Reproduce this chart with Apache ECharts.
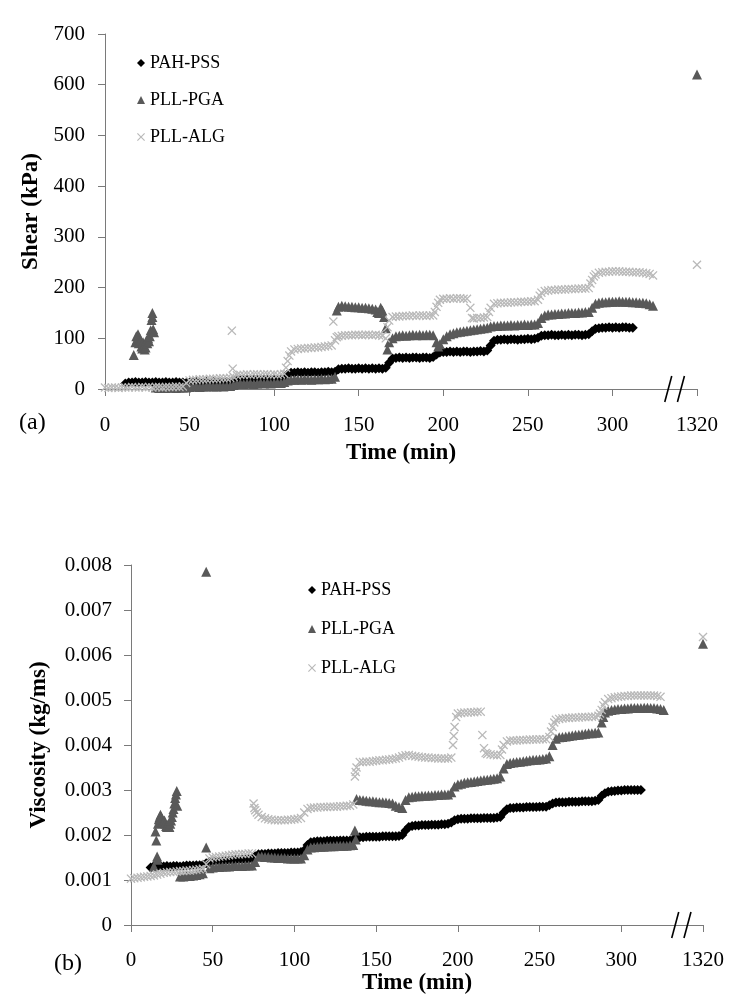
<!DOCTYPE html>
<html>
<head>
<meta charset="utf-8">
<script src="https://cdn.jsdelivr.net/npm/echarts@6/dist/echarts.min.js"></script>
<style>
html,body{margin:0;padding:0;background:#fff;}
#chart{width:750px;height:1008px;}
</style>
</head>
<body>
<div id="chart"></div>
<script>
// ---------- Data (time in min, shear in kPa, viscosity in kg/ms) ----------
const seriesNames = ['PAH-PSS', 'PLL-PGA', 'PLL-ALG'];
const xTicks = [0, 50, 100, 150, 200, 250, 300, 1320];
const lastTime = 1320;

const shearPAHPSS = [[12,11],[14,13],[16,13],[18,14],[20,13],[22,13],[24,14],[26,13],[28,13],[30,14],[32,13],[34,13],[36,14],[38,13],[40,13],[42,14],[44,13],[46,13],
[48,12],[50,13],[52,13],[54,14],[56,13],[58,13],[60,14],[62,13],[64,14],[66,13],[68,14],[70,13],[72,14],[74,14],
[76,17],[78,19],[80,19],[82,20],[84,19],[86,19],[88,20],[90,19],[92,20],[94,19],[96,20],[98,19],[100,20],[102,19],[104,20],[106,21],
[108,29],[110,32],[112,32],[114,33],[116,32],[118,33],[120,32],[122,33],[124,33],[126,32],[128,33],[130,33],[132,34],[134,33],[136,34],
[138,39],[140,40],[142,40],[144,41],[146,40],[148,40],[150,41],[152,40],[154,41],[156,40],[158,41],[160,40],[162,41],[164,40],[166,42],
[168,52],[170,60],[172,61],[174,62],[176,61],[178,62],[180,61],[182,62],[184,62],[186,61],[188,62],[190,62],[192,61],[194,63],
[196,68],[198,72],[200,73],[202,73],[204,74],[206,73],[208,74],[210,73],[212,74],[214,74],[216,73],[218,74],[220,74],[222,75],[224,74],[226,76],
[228,86],[230,95],[232,97],[234,97],[236,98],[238,97],[240,98],[242,98],[244,97],[246,98],[248,98],[250,99],[252,98],[254,99],[256,101],
[258,105],[260,106],[262,106],[264,107],[266,106],[268,106],[270,107],[272,106],[274,107],[276,106],[278,107],[280,107],[282,106],[284,107],[286,108],
[288,114],[290,119],[292,120],[294,121],[296,121],[298,122],[300,121],[302,122],[304,121],[306,122],[308,122],[310,121],[312,121]];

const shearPLLPGA = [[17,67],[18,92],[18.5,104],[19,98],[19.5,108],[20,90],[20.5,100],[21,95],[21.5,84],[22,80],[22.5,92],[23,86],[23.5,78],[24,82],[24.5,96],[25,90],[25.5,100],[26,94],[26.5,104],[27,116],[27.5,136],[28,150],[28,142],[28.5,118],[29,112],
[30,3],[32,2],[34,3],[36,2],[38,3],[40,3],[42,2],[44,3],[46,3],[48,3],
[50,4],[52,5],[54,5],[56,4],[58,5],[60,5],[62,6],[64,5],[66,5],[68,6],[70,5],[72,6],[74,6],[76,8],
[78,10],[80,11],[82,10],[84,11],[86,11],[88,10],[90,11],[92,12],[94,11],[96,12],[98,11],[100,12],[102,12],[104,12],[106,14],
[108,17],[110,18],[112,18],[114,19],[116,18],[118,19],[120,19],[122,18],[124,19],[126,19],[128,20],[130,19],[132,20],[134,20],[136,24],
[137,155],[138,162],[140,164],[142,163],[144,162],[146,162],[148,161],[150,161],[152,160],[154,160],[156,159],[158,158],[160,157],[161,152],[162,150],[163,160],[164,155],[165,142],[166,120],[167,78],
[168,92],[170,100],[172,104],[174,105],[176,106],[178,105],[180,106],[182,107],[184,106],[186,107],[188,106],[190,107],[192,107],[194,106],[196,92],
[197,84],[198,88],[200,98],[202,104],[204,108],[206,110],[208,112],[210,113],[212,114],[214,115],[216,116],[218,117],[220,118],[222,119],[224,120],[226,121],
[228,123],[230,124],[232,124],[234,125],[236,125],[238,125],[240,126],[242,125],[244,126],[246,126],[248,127],[250,126],[252,127],[254,127],[256,130],
[258,140],[260,145],[262,147],[264,147],[266,148],[268,148],[270,149],[272,149],[274,150],[276,150],[278,150],[280,151],[282,151],[284,152],[286,152],
[288,160],[290,168],[292,170],[294,171],[296,171],[298,172],[300,172],[302,172],[304,173],[306,172],[308,172],[310,172],[312,171],[314,171],[316,170],[318,170],[320,169],[322,167],[324,164],
[1320,620]];

const shearPLLALG = [[0,3],[2,2],[4,3],[6,3],[8,2],[10,3],[12,3],[14,3],[16,4],[18,3],[20,3],[22,4],[24,3],[26,4],[28,3],[30,4],[32,4],[34,3],[36,4],[38,4],[40,4],[42,5],[44,4],[46,5],
[48,12],[50,17],[52,18],[54,18],[56,19],[58,19],[60,19],[62,20],[64,20],[66,20],[68,21],[70,21],[72,21],[74,22],[75,115],[75.5,40],
[76,24],[78,27],[80,28],[82,28],[84,29],[86,28],[88,29],[90,29],[92,28],[94,29],[96,29],[98,28],[100,29],[102,28],[104,29],[106,30],
[107,42],[108,55],[109,66],[110,74],[112,78],[114,79],[116,80],[118,80],[120,81],[122,81],[124,82],[126,82],[128,83],[130,84],[132,85],[134,86],[135,133],
[136,96],[137,102],[138,104],[140,105],[142,106],[144,106],[146,106],[148,107],[150,107],[152,106],[154,107],[156,107],[158,106],[160,107],[162,106],[164,105],[166,100],
[167,122],[168,135],[170,142],[172,143],[174,143],[176,144],[178,144],[180,144],[182,145],[184,144],[186,145],[188,145],[190,144],[192,145],[194,145],
[195,152],[196,162],[197,170],[198,176],[200,178],[202,178],[204,179],[206,178],[208,179],[210,179],[212,178],[214,178],[216,160],
[217,140],[218,139],[220,140],[222,140],[224,141],[226,142],[227,152],[228,160],
[230,168],[232,169],[234,170],[236,170],[238,170],[240,171],[242,171],[244,171],[246,172],[248,172],[250,172],[252,173],[254,173],[256,176],
[257,184],[258,190],[260,193],[262,194],[264,195],[266,195],[268,196],[270,196],[272,196],[274,197],[276,197],[278,197],[280,198],[282,198],[284,198],[286,199],
[287,208],[288,215],[289,222],[290,226],[292,229],[294,230],[296,231],[298,231],[300,232],[302,232],[304,232],[306,231],[308,231],[310,231],[312,230],[314,230],[316,230],[318,229],[320,228],[322,227],[324,224],
[1320,245]];

const viscPAHPSS = [[12,0.00128],[14,0.00131],[16,0.0013],[18,0.00131],[20,0.0013],[22,0.00131],[24,0.0013],[26,0.00131],[28,0.00131],[30,0.0013],[32,0.00131],[34,0.00132],[36,0.00132],[38,0.00132],[40,0.00133],[42,0.00133],[44,0.00134],[46,0.00137],
[48,0.0014],[50,0.00141],[52,0.00142],[54,0.00142],[56,0.00143],[58,0.00143],[60,0.00144],[62,0.00144],[64,0.00145],[66,0.00145],[68,0.00145],[70,0.00146],[72,0.00146],[74,0.00147],
[76,0.00153],[78,0.00157],[80,0.00158],[82,0.00158],[84,0.00159],[86,0.00159],[88,0.00159],[90,0.0016],[92,0.0016],[94,0.0016],[96,0.0016],[98,0.00161],[100,0.00161],[102,0.00161],[104,0.00162],[106,0.00166],
[108,0.00178],[110,0.00184],[112,0.00185],[114,0.00186],[116,0.00186],[118,0.00186],[120,0.00187],[122,0.00187],[124,0.00187],[126,0.00187],[128,0.00188],[130,0.00188],[132,0.00188],[134,0.00188],[136,0.0019],
[138,0.00194],[140,0.00195],[142,0.00195],[144,0.00196],[146,0.00196],[148,0.00196],[150,0.00196],[152,0.00196],[154,0.00197],[156,0.00197],[158,0.00197],[160,0.00197],[162,0.00197],[164,0.00198],[166,0.002],
[168,0.0021],[170,0.00218],[172,0.0022],[174,0.00221],[176,0.00221],[178,0.00222],[180,0.00222],[182,0.00222],[184,0.00223],[186,0.00223],[188,0.00223],[190,0.00224],[192,0.00224],[194,0.00225],[196,0.00228],
[198,0.00233],[200,0.00235],[202,0.00236],[204,0.00236],[206,0.00236],[208,0.00237],[210,0.00237],[212,0.00237],[214,0.00237],[216,0.00238],[218,0.00238],[220,0.00238],[222,0.00238],[224,0.00239],[226,0.0024],
[228,0.0025],[230,0.00257],[232,0.0026],[234,0.0026],[236,0.00261],[238,0.00261],[240,0.00261],[242,0.00262],[244,0.00262],[246,0.00262],[248,0.00262],[250,0.00263],[252,0.00263],[254,0.00263],[256,0.00266],
[258,0.0027],[260,0.00272],[262,0.00273],[264,0.00273],[266,0.00273],[268,0.00274],[270,0.00274],[272,0.00274],[274,0.00274],[276,0.00275],[278,0.00275],[280,0.00275],[282,0.00275],[284,0.00276],[286,0.00278],
[288,0.00287],[290,0.00293],[292,0.00296],[294,0.00297],[296,0.00298],[298,0.00299],[300,0.00299],[302,0.003],[304,0.003],[306,0.003],[308,0.003],[310,0.003],[312,0.003]];

const viscPLLPGA = [[14,0.0013],[15,0.00208],[15.5,0.00188],[16,0.00152],[16.2,0.00145],[16.5,0.00225],[17,0.00235],[17.5,0.0024],[18,0.00245],[18.5,0.0024],[19,0.00236],[19.5,0.0023],[20,0.00228],[20.5,0.00232],[21,0.00225],[21.5,0.0022],[22,0.00218],[22.5,0.00222],[23,0.0022],[23.5,0.00218],[24,0.00225],[24.5,0.00232],[25,0.0024],[25.5,0.0025],[26,0.00258],[26.5,0.0027],[27,0.00282],[27.5,0.0029],[28,0.00298],[28.3,0.00265],
[30,0.00108],[32,0.00108],[34,0.00109],[36,0.00109],[38,0.0011],[40,0.00111],[42,0.00113],[44,0.00115],[46,0.00172],[46,0.00785],
[48,0.00126],[50,0.00128],[52,0.00129],[54,0.00129],[56,0.0013],[58,0.0013],[60,0.0013],[62,0.00131],[64,0.00131],[66,0.00131],[68,0.00131],[70,0.00132],[72,0.00132],[74,0.00132],[76,0.0014],
[78,0.00152],[80,0.00152],[82,0.00151],[84,0.00151],[86,0.0015],[88,0.0015],[90,0.00149],[92,0.00149],[94,0.00149],[96,0.00148],[98,0.00148],[100,0.00148],[102,0.00148],[104,0.00148],[106,0.00155],
[108,0.00168],[110,0.00172],[112,0.00173],[114,0.00174],[116,0.00174],[118,0.00174],[120,0.00175],[122,0.00175],[124,0.00175],[126,0.00176],[128,0.00176],[130,0.00176],[132,0.00176],[134,0.00177],[136,0.00178],
[137,0.0021],[137.5,0.0019],[138,0.0028],[140,0.00278],[142,0.00277],[144,0.00276],[146,0.00275],[148,0.00275],[150,0.00274],[152,0.00273],[154,0.00273],[156,0.00272],[158,0.00271],[160,0.0027],[162,0.00265],[164,0.00262],[166,0.0026],
[168,0.00278],[170,0.00284],[172,0.00285],[174,0.00286],[176,0.00286],[178,0.00287],[180,0.00287],[182,0.00288],[184,0.00288],[186,0.00289],[188,0.00289],[190,0.0029],[192,0.0029],[194,0.0029],[196,0.00295],
[198,0.00308],[200,0.00312],[202,0.00314],[204,0.00316],[206,0.00317],[208,0.00318],[210,0.00319],[212,0.0032],[214,0.00321],[216,0.00322],[218,0.00323],[220,0.00324],[222,0.00325],[224,0.00326],[226,0.0033],
[228,0.00348],[230,0.00358],[232,0.0036],[234,0.00361],[236,0.00362],[238,0.00363],[240,0.00364],[242,0.00365],[244,0.00366],[246,0.00367],[248,0.00367],[250,0.00368],[252,0.00369],[254,0.0037],[256,0.00375],
[258,0.004],[260,0.00414],[262,0.00417],[264,0.00418],[266,0.00419],[268,0.0042],[270,0.00421],[272,0.00422],[274,0.00423],[276,0.00424],[278,0.00425],[280,0.00426],[282,0.00426],[284,0.00427],[286,0.00428],
[288,0.0045],[289,0.00462],[290,0.00472],[292,0.00476],[294,0.00478],[296,0.00479],[298,0.0048],[300,0.0048],[302,0.00481],[304,0.00481],[306,0.00482],[308,0.00482],[310,0.00482],[312,0.00482],[314,0.00483],[316,0.00483],[318,0.00482],[320,0.00482],[322,0.00481],[324,0.0048],[326,0.00478],
[1320,0.00625]];

const viscPLLALG = [[0,0.00103],[2,0.00104],[4,0.00105],[6,0.00106],[8,0.00107],[10,0.00108],[12,0.00109],[14,0.0011],[16,0.00112],[18,0.00114],[20,0.00116],[22,0.00117],[24,0.00118],[26,0.00118],[28,0.00119],[30,0.0012],[32,0.0012],[34,0.00121],[36,0.00121],[38,0.00122],[40,0.00123],[42,0.00124],[44,0.00125],[46,0.00135],
[48,0.00148],[50,0.0015],[52,0.00151],[54,0.00152],[56,0.00153],[58,0.00154],[60,0.00155],[62,0.00156],[64,0.00157],[66,0.00157],[68,0.00158],[70,0.00158],[72,0.00159],[74,0.00159],
[75,0.0027],[75.5,0.0026],[76,0.00255],[77,0.0025],[78,0.00245],[80,0.0024],[82,0.00237],[84,0.00235],[86,0.00234],[88,0.00233],[90,0.00233],[92,0.00233],[94,0.00233],[96,0.00234],[98,0.00234],[100,0.00235],[102,0.00236],[104,0.00238],
[106,0.0025],[108,0.00258],[110,0.0026],[112,0.00261],[114,0.00261],[116,0.00262],[118,0.00262],[120,0.00262],[122,0.00263],[124,0.00263],[126,0.00263],[128,0.00264],[130,0.00264],[132,0.00265],[134,0.00265],[136,0.00268],
[137,0.0033],[137.5,0.0034],[138,0.0035],[140,0.00362],[142,0.00362],[144,0.00363],[146,0.00363],[148,0.00364],[150,0.00365],[152,0.00366],[154,0.00366],[156,0.00367],[158,0.00368],[160,0.00369],[162,0.0037],[164,0.00372],[166,0.00375],[168,0.00377],[170,0.00378],[172,0.00376],[174,0.00375],[176,0.00374],[178,0.00373],[180,0.00372],[182,0.00372],[184,0.00371],[186,0.00371],[188,0.0037],[190,0.0037],[192,0.0037],[194,0.0037],[196,0.00372],
[197,0.004],[197.5,0.0042],[198,0.0044],[199,0.00462],[200,0.0047],[202,0.00471],[204,0.00472],[206,0.00472],[208,0.00473],[210,0.00473],[212,0.00474],[214,0.00474],[215,0.00422],[216,0.00393],
[217,0.00382],[218,0.0038],[220,0.00379],[222,0.00378],[224,0.00377],[226,0.00378],[227,0.0039],[228,0.004],
[230,0.00408],[232,0.0041],[234,0.0041],[236,0.0041],[238,0.00411],[240,0.00411],[242,0.00411],[244,0.00412],[246,0.00412],[248,0.00412],[250,0.00413],[252,0.00413],[254,0.00413],[256,0.00418],
[257,0.0043],[258,0.0044],[259,0.0045],[260,0.00456],[262,0.00458],[264,0.00459],[266,0.0046],[268,0.0046],[270,0.00461],[272,0.00461],[274,0.00461],[276,0.00462],[278,0.00462],[280,0.00462],[282,0.00463],[284,0.00463],[286,0.00465],
[287,0.0047],[288,0.00478],[289,0.00488],[290,0.00495],[292,0.00502],[294,0.00504],[296,0.00506],[298,0.00507],[300,0.00508],[302,0.00509],[304,0.00509],[306,0.0051],[308,0.0051],[310,0.0051],[312,0.0051],[314,0.0051],[316,0.0051],[318,0.0051],[320,0.0051],[322,0.00509],[324,0.00507],
[1320,0.0064]];

// ---------- Broken time axis: the 1320 min reading sits one tick step after 300 ----------
const axisEnd = 350;          // axis position used for the last tick
const breakStart = 330;       // times above this are beyond the axis break
const toAxis = t => (t > breakStart ? axisEnd + (t - lastTime) : t);
const mapSeries = arr => arr.map(p => [toAxis(p[0]), p[1]]);
const tickLabel = v => (v === axisEnd ? String(lastTime) : String(v));

const FONT = '"Liberation Serif", "Times New Roman", serif';
const AXIS_COLOR = '#7a7a7a';
const colors = ['#000000', '#595959', '#b9b9b9'];
const xSymbol = 'path://M0,1L1,0L5,4L9,0L10,1L6,5L10,9L9,10L5,6L1,10L0,9L4,5Z';
const symbols = ['diamond', 'triangle', xSymbol];
const sizes = [10, 10, 9];

const chart = echarts.init(document.getElementById('chart'), null, {renderer: 'canvas'});

const titleStyle = {fontFamily: FONT, fontWeight: 'bold', fontSize: 23, color: '#000'};

function xAxisCfg(gridIndex, gap, margin) {
  return {
    gridIndex, type: 'value', min: 0, max: axisEnd, interval: 50,
    name: 'Time (min)', nameLocation: 'middle', nameGap: gap,
    nameTextStyle: titleStyle,
    axisLine: {show: true, lineStyle: {color: AXIS_COLOR, width: 1}},
    axisTick: {show: true, inside: false, length: 7, lineStyle: {color: AXIS_COLOR}},
    axisLabel: {fontFamily: FONT, fontSize: 21, color: '#000', margin, formatter: tickLabel},
    splitLine: {show: false}
  };
}

const shearSets = [shearPAHPSS, shearPLLPGA, shearPLLALG];
const viscSets = [viscPAHPSS, viscPLLPGA, viscPLLALG];
const series = [];
[shearSets, viscSets].forEach((sets, gi) => {
  sets.forEach((d, i) => {
    series.push({
      name: seriesNames[i], type: 'scatter', xAxisIndex: gi, yAxisIndex: gi,
      data: mapSeries(d), symbol: symbols[i], symbolSize: sizes[i],
      itemStyle: {color: colors[i], opacity: 1}, silent: true, animation: false
    });
  });
});

function legendCfg(left, top, gap) {
  return {
    data: seriesNames, orient: 'vertical', left, top, itemGap: gap,
    itemWidth: 8, itemHeight: 8, selectedMode: false,
    textStyle: {fontFamily: FONT, fontSize: 18, color: '#000', lineHeight: 18}
  };
}

chart.setOption({
  backgroundColor: '#ffffff',
  animation: false,
  grid: [
    {left: 105, top: 34, width: 592, height: 355, outerBoundsMode: 'none'},
    {left: 131, top: 565, width: 572, height: 360, outerBoundsMode: 'none'}
  ],
  xAxis: [xAxisCfg(0, 53, 26), xAxisCfg(1, 45, 25)],
  yAxis: [
    {
      gridIndex: 0, type: 'value', min: 0, max: 700, interval: 100,
      name: 'Shear (kPa)', nameLocation: 'middle', nameGap: 60,
      nameTextStyle: titleStyle,
      axisLine: {show: true, lineStyle: {color: AXIS_COLOR}},
      axisTick: {show: true, length: 7, lineStyle: {color: AXIS_COLOR}},
      axisLabel: {fontFamily: FONT, fontSize: 21, color: '#000', margin: 20},
      splitLine: {show: false}
    },
    {
      gridIndex: 1, type: 'value', min: 0, max: 0.008, interval: 0.001,
      name: 'Viscosity (kg/ms)', nameLocation: 'middle', nameGap: 80,
      nameTextStyle: titleStyle,
      axisLine: {show: true, lineStyle: {color: AXIS_COLOR}},
      axisTick: {show: true, length: 7, lineStyle: {color: AXIS_COLOR}},
      axisLabel: {fontFamily: FONT, fontSize: 21, color: '#000', margin: 19,
        formatter: v => (v === 0 ? '0' : v.toFixed(3))},
      splitLine: {show: false}
    }
  ],
  legend: [legendCfg(132, 49, 19), legendCfg(303, 576, 21)],
  series
});

// Axis break marks "//" and panel letters
const graphics = [];
[0, 1].forEach(gi => {
  [333, 340.5].forEach(pos => {
    const p = chart.convertToPixel({gridIndex: gi}, [pos, 0]);
    graphics.push({type: 'line', shape: {x1: p[0] - 3.5, y1: p[1] + 13, x2: p[0] + 3.5, y2: p[1] - 13},
      style: {stroke: '#000', lineWidth: 1.6}, z: 10});
  });
});
graphics.push({type: 'text', left: 19, top: 411, style: {text: '(a)', font: '24px ' + FONT, fill: '#000'}});
graphics.push({type: 'text', left: 54, top: 952, style: {text: '(b)', font: '24px ' + FONT, fill: '#000'}});
chart.setOption({graphic: graphics});
</script>
</body>
</html>
